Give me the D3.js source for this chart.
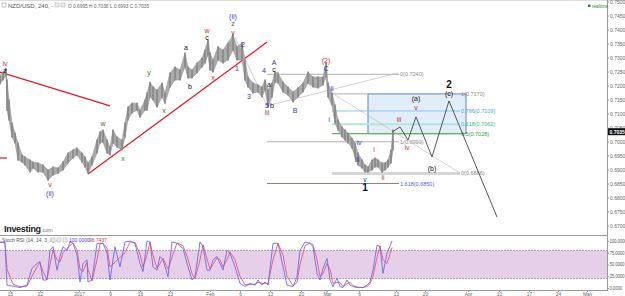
<!DOCTYPE html>
<html>
<head>
<meta charset="utf-8">
<script src="https://cdn.jsdelivr.net/npm/d3@7/dist/d3.min.js"></script>
<style>
  body { margin: 0; background: #fff; }
  svg { display: block; font-family: "Liberation Sans", Arial, sans-serif; }
</style>
</head>
<body>
<svg id="chart" width="625" height="296"></svg>
<script>
// NZD/USD 240 min, bars are counted from the left edge (one bar ~ one pixel)
var barIdx = [0,3,6,7,9,12,15,18,22,25,30,33,38,43,48,53,58,63,68,73,77,82,85,88,92,97,100,103,107,110,113,117,122,125,128,132,137,140,145,147,150,153,157,162,165,170,175,180,185,188,192,197,202,205,208,210,213,218,223,228,233,237,242,245,248,253,258,262,265,268,272,275,278,283,288,293,298,303,308,313,318,323,326,328,332,335,338,342,345,348,352,355,358,362,365,368,372,375,378,382,385,388,391,393];
var highs = [0.7234,0.7248,0.7262,0.7220,0.7148,0.7066,0.7030,0.6995,0.6952,0.6945,0.6934,0.6927,0.6923,0.6916,0.6898,0.6909,0.6905,0.6927,0.6959,0.6970,0.6977,0.6959,0.6945,0.6923,0.6945,0.7005,0.7034,0.7041,0.7005,0.6980,0.7041,0.7016,0.7005,0.7066,0.7123,0.7137,0.7137,0.7112,0.7148,0.7173,0.7212,0.7195,0.7184,0.7209,0.7173,0.7245,0.7266,0.7255,0.7316,0.7266,0.7255,0.7280,0.7298,0.7327,0.7362,0.7316,0.7291,0.7338,0.7327,0.7352,0.7380,0.7338,0.7352,0.7291,0.7230,0.7209,0.7202,0.7195,0.7220,0.7184,0.7209,0.7248,0.7245,0.7212,0.7195,0.7177,0.7191,0.7209,0.7248,0.7230,0.7230,0.7230,0.7280,0.7209,0.7173,0.7130,0.7077,0.7052,0.7041,0.7030,0.7012,0.6995,0.6959,0.6934,0.6916,0.6909,0.6934,0.6941,0.6934,0.6923,0.6923,0.6934,0.6970,0.7041];
var lows = [0.7205,0.7220,0.7234,0.7112,0.7077,0.7016,0.6995,0.6934,0.6927,0.6916,0.6891,0.6905,0.6891,0.6891,0.6862,0.6880,0.6887,0.6898,0.6923,0.6941,0.6952,0.6927,0.6909,0.6887,0.6916,0.6959,0.6995,0.6998,0.6959,0.6952,0.6995,0.6980,0.6970,0.7016,0.7077,0.7102,0.7112,0.7087,0.7112,0.7112,0.7159,0.7148,0.7123,0.7159,0.7137,0.7195,0.7220,0.7220,0.7266,0.7227,0.7227,0.7245,0.7266,0.7280,0.7309,0.7255,0.7248,0.7291,0.7280,0.7291,0.7327,0.7291,0.7291,0.7220,0.7195,0.7173,0.7177,0.7159,0.7184,0.7123,0.7159,0.7212,0.7209,0.7177,0.7166,0.7141,0.7159,0.7177,0.7209,0.7195,0.7191,0.7202,0.7230,0.7159,0.7130,0.7066,0.7041,0.7016,0.7005,0.6995,0.6977,0.6945,0.6916,0.6905,0.6891,0.6891,0.6898,0.6909,0.6909,0.6891,0.6898,0.6909,0.6923,0.6970];

// stochastic RSI (14,14,3,3)
var stochBar = [0,5,7,13,20,27,32,37,40,43,47,50,53,57,60,63,67,70,73,77,80,83,87,88,92,97,100,103,107,110,115,120,125,130,135,140,143,147,150,153,157,160,163,168,172,177,183,188,192,195,200,203,207,210,213,217,220,223,227,230,235,240,245,250,255,258,262,265,268,273,278,283,287,293,297,300,305,310,313,317,320,323,327,330,333,337,340,343,347,350,353,357,363,367,370,373,377,380,383,387,392];
var stochK = [98,96,6,4,1,6,42,52,56,17,17,80,88,38,67,88,80,98,95,70,13,52,60,13,17,95,95,95,74,17,88,45,98,100,95,52,35,100,98,45,38,67,60,24,98,95,84,45,17,24,98,88,38,38,60,67,52,38,80,74,45,10,3,10,6,17,6,13,6,95,95,45,6,3,24,80,98,95,88,31,17,42,63,17,3,21,3,1,17,6,3,1,1,6,13,38,91,88,31,74,100];
var stochD = [97,97,40,8,3,4,25,45,54,35,18,50,80,60,55,75,84,90,96,82,40,35,55,40,15,60,94,95,85,45,55,65,75,98,97,72,45,70,98,70,42,52,63,40,65,96,90,62,30,20,60,92,62,40,50,64,60,45,60,77,60,25,7,7,8,12,10,10,9,60,95,70,25,5,12,50,90,96,92,60,25,30,52,40,10,12,12,3,9,12,5,2,1,3,9,25,65,90,60,52,86];

// axes
var priceTicks = [0.75,0.745,0.74,0.735,0.73,0.725,0.72,0.715,0.71,0.705,0.70,0.695,0.69,0.685,0.68,0.675,0.67];
var stochTicks = [0,25,50,75,100];
var dateBars = [10,40,79,110,140,170,210,240,270,301,327,359,396,425,468,499,529,558,587];
var dateLabels = ["15","22","2017","9","16","23","Feb","6","13","20","Mar","6","13","20","Apr","10","17","24","May"];

// fib tools
var extNames = ["0","1","1.618"], extPrices = [0.7240,0.6999,0.6850];
var retNames = ["1","0.786","0.618","0.5","0"], retPrices = [0.7170,0.7109,0.7062,0.7028,0.6886];

// hand drawn lines [bar0, price0, bar1, price1]
var redLines = [[0,0.7248,110,0.7127],[88,0.6884,267,0.7355],[0,0.6941,7,0.6941]];
var guideLines = [[235,0.7373,267,0.7127],[267,0.7127,398,0.7245],[332,0.7173,460,0.6887]];
var pathBars = [392,400,408,416,432,449,497];
var pathPrices = [0.7034,0.7052,0.7005,0.7088,0.6945,0.7145,0.6730];

// wave labels: text, bar, price, colour
var waveLabels = [
  ["iv",5,0.7280,"r"],["z",5,0.7255,"k"],["v",50,0.6845,"r"],["(ii)",50,0.6813,"b"],
  ["w",103,0.7066,"g"],["x",123,0.6941,"g"],["y",149,0.7248,"g"],["x",164,0.7109,"g"],
  ["a",186,0.7334,"k"],["b",190,0.7198,"k"],["c",207,0.7370,"k"],["w",207,0.7395,"r"],
  ["x",213,0.7227,"r"],["y",233,0.7391,"r"],["z",233,0.7420,"g"],["(ii)",233,0.7445,"b"],
  ["1",237,0.7262,"b"],["2",243,0.7348,"b"],["3",249,0.7159,"b"],["4",264,0.7252,"b"],
  ["a",269,0.7205,"k"],["5",267,0.7127,"b"],["b",272,0.7130,"k"],["iii",267,0.7102,"r"],
  ["A",274,0.7282,"b"],["c",274,0.7257,"k"],["B",295,0.7112,"b"],["(2)",326,0.7290,"r"],
  ["C",326,0.7262,"b"],["ii",332,0.7188,"b"],["i",329,0.7080,"b"],["iv",359,0.6995,"b"],
  ["iii",357,0.6934,"b"],["v",365,0.6866,"b"],["i",374,0.6970,"r"],["ii",383,0.6870,"r"],
  ["iii",399,0.7077,"r"],["iv",407,0.6977,"r"],["v",416,0.7120,"r"],["(a)",416,0.7155,"k"],
  ["(b)",432,0.6905,"k"],["(c)",449,0.7173,"k"]
];
var bigLabels = [["1",365,0.6836],["2",449,0.7204]];

var colors = { r: "#d42a2a", k: "#111", g: "#3d7d1c", b: "#2a36c8" };

var svg = d3.select("#chart"),
    plotRight = 607;

var x = d3.scaleLinear().domain([0, plotRight]).range([0, plotRight]),
    y = d3.scaleLinear().domain([0.70, 0.75]).range([141.5, 1.5]),
    ys = d3.scaleLinear().domain([0, 100]).range([288, 241]);

// frame lines
svg.append("line").attr("x1", 0).attr("x2", 625).attr("y1", 0.5).attr("y2", 0.5).attr("stroke", "#ddd");
svg.append("line").attr("x1", 0).attr("x2", plotRight).attr("y1", 235.5).attr("y2", 235.5).attr("stroke", "#999");
svg.append("line").attr("x1", 0).attr("x2", plotRight).attr("y1", 290.5).attr("y2", 290.5).attr("stroke", "#999");
svg.append("line").attr("x1", plotRight + 0.5).attr("x2", plotRight + 0.5).attr("y1", 0).attr("y2", 291).attr("stroke", "#999");

// stoch band
svg.append("rect")
  .attr("x", 0).attr("width", plotRight)
  .attr("y", ys(80)).attr("height", ys(20) - ys(80))
  .attr("fill", "#e6cfe8");
[80, 20].forEach(function(v) {
  svg.append("line").attr("x1", 0).attr("x2", plotRight)
    .attr("y1", ys(v)).attr("y2", ys(v))
    .attr("stroke", "#8a7a8a").attr("stroke-dasharray", "2,1").attr("stroke-width", 0.7);
});

// red trend lines
svg.append("g").selectAll("line").data(redLines).enter().append("line")
  .attr("x1", function(d) { return x(d[0]); }).attr("y1", function(d) { return y(d[1]); })
  .attr("x2", function(d) { return x(d[2]); }).attr("y2", function(d) { return y(d[3]); })
  .attr("stroke", "#e8141a").attr("stroke-width", 1.2);

// fib box
svg.append("rect")
  .attr("x", x(368)).attr("y", y(0.7170))
  .attr("width", x(466) - x(368)).attr("height", y(0.7028) - y(0.7170))
  .attr("fill", "#e1eef9").attr("stroke", "#5b86bd").attr("stroke-width", 1);

// extension tool levels
var extColors = ["#b0b0b0", "#b0b0b0", "#7d7dd8"],
    extText = ["#8a8a8a", "#8a8a8a", "#5c5cd0"];
extPrices.forEach(function(p, i) {
  svg.append("line").attr("x1", x(267)).attr("x2", x(399))
    .attr("y1", y(p)).attr("y2", y(p))
    .attr("stroke", extColors[i]).attr("stroke-width", i == 2 ? 1.2 : 1);
  svg.append("text").attr("x", x(399) + 1).attr("y", y(p) + 2)
    .attr("font-size", 5.5).attr("fill", extText[i])
    .text(extNames[i] + "(" + p.toFixed(4) + ")");
});

// retracement tool levels
var retColors = ["#5b86bd", "#86c6ea", "#b3e6d4", "#5cb55a", "#d6d6d6"],
    retWidth = [1, 1, 2, 1.3, 3],
    retText = ["#8a8a8a", "#4aa6d6", "#3cb596", "#3a9a3a", "#8a8a8a"];
retPrices.forEach(function(p, i) {
  svg.append("line").attr("x1", x(332)).attr("x2", x(i == 0 ? 332 : 460))
    .attr("y1", y(p)).attr("y2", y(p))
    .attr("stroke", retColors[i]).attr("stroke-width", retWidth[i]);
  svg.append("text").attr("x", x(461)).attr("y", y(p) + 2)
    .attr("font-size", 5.5).attr("fill", retText[i])
    .text(retNames[i] + "(" + p.toFixed(4) + ")");
});
svg.append("line").attr("x1", x(332)).attr("x2", x(368))
  .attr("y1", y(0.7170)).attr("y2", y(0.7170)).attr("stroke", "#b0b0b0");

// thin connector lines of the tools
svg.append("g").selectAll("line").data(guideLines).enter().append("line")
  .attr("x1", function(d) { return x(d[0]); }).attr("y1", function(d) { return y(d[1]); })
  .attr("x2", function(d) { return x(d[2]); }).attr("y2", function(d) { return y(d[3]); })
  .attr("stroke", "#bdbdbd").attr("stroke-width", 0.7);

// price bars: light band for the range, darker ticks on top
var bars = barIdx.map(function(b, i) { return { bar: b, hi: highs[i], lo: lows[i] }; });
svg.append("path").datum(bars)
  .attr("fill", "#ababab").attr("stroke", "#999").attr("stroke-width", 0.6)
  .attr("d", d3.area()
    .x(function(d) { return x(d.bar); })
    .y0(function(d) { return y(d.lo); })
    .y1(function(d) { return y(d.hi); }));
svg.append("g").selectAll("line").data(bars).enter().append("line")
  .attr("x1", function(d) { return x(d.bar); }).attr("x2", function(d) { return x(d.bar); })
  .attr("y1", function(d) { return y(d.hi) - 0.5; }).attr("y2", function(d) { return y(d.lo) + 0.5; })
  .attr("stroke", "#808080").attr("stroke-width", 1.4);

// projected path
svg.append("path").datum(d3.zip(pathBars, pathPrices))
  .attr("fill", "none").attr("stroke", "#555").attr("stroke-width", 1)
  .attr("d", d3.line().x(function(d) { return x(d[0]); }).y(function(d) { return y(d[1]); }));

// wave labels
svg.append("g").selectAll("text").data(waveLabels).enter().append("text")
  .attr("x", function(d) { return x(d[1]); })
  .attr("y", function(d) { return y(d[2]) + 2.5; })
  .attr("text-anchor", "middle")
  .attr("font-size", 7)
  .attr("fill", function(d) { return colors[d[3]]; })
  .text(function(d) { return d[0]; });
svg.append("g").selectAll("text").data(bigLabels).enter().append("text")
  .attr("x", function(d) { return x(d[1]); })
  .attr("y", function(d) { return y(d[2]) + 3.5; })
  .attr("text-anchor", "middle")
  .attr("font-size", 10).attr("font-weight", "bold").attr("fill", "#111")
  .text(function(d) { return d[0]; });

// price axis
var yAxis = svg.append("g").attr("transform", "translate(" + plotRight + ",0)")
  .call(d3.axisRight(y).tickValues(priceTicks).tickSize(2).tickFormat(d3.format(".4f")));
yAxis.select(".domain").remove();
yAxis.selectAll("text").attr("font-size", 5).attr("fill", "#666").attr("x", 3);
yAxis.selectAll("line").attr("stroke", "#999");

// last price tag
svg.append("rect").attr("x", plotRight + 1).attr("y", y(0.7035) - 3.5)
  .attr("width", 17).attr("height", 7).attr("fill", "#111");
svg.append("text").attr("x", plotRight + 2.5).attr("y", y(0.7035) + 2)
  .attr("font-size", 5).attr("font-weight", "bold").attr("fill", "#fff").text("0.7035");

// stoch lines
var stochRows = stochBar.map(function(b, i) { return { bar: b, k: stochK[i], d: stochD[i] }; });
svg.append("path").datum(stochRows)
  .attr("fill", "none").attr("stroke", "#f0556a").attr("stroke-width", 0.9)
  .attr("d", d3.line().x(function(d) { return x(d.bar); }).y(function(d) { return ys(d.d); }));
svg.append("path").datum(stochRows)
  .attr("fill", "none").attr("stroke", "#6b6bf0").attr("stroke-width", 0.9)
  .attr("d", d3.line().x(function(d) { return x(d.bar); }).y(function(d) { return ys(d.k); }));

var sAxis = svg.append("g").attr("transform", "translate(" + plotRight + ",0)")
  .call(d3.axisRight(ys).tickValues(stochTicks).tickSize(2).tickFormat(d3.format(".4f")));
sAxis.select(".domain").remove();
sAxis.selectAll("text").attr("font-size", 4.5).attr("letter-spacing", -0.2)
  .attr("fill", "#666").attr("x", 2.5);
sAxis.selectAll("line").attr("stroke", "#999");

// date axis
var xAxis = svg.append("g").attr("transform", "translate(0,290)")
  .call(d3.axisBottom(x).tickValues(dateBars).tickSize(2)
    .tickFormat(function(d, i) { return dateLabels[i]; }));
xAxis.select(".domain").remove();
xAxis.selectAll("text").attr("font-size", 4.8).attr("fill", "#666").attr("y", 2.5).attr("dy", "0.7em");
xAxis.selectAll("line").attr("stroke", "#999");

// headers
svg.append("rect").attr("x", 2).attr("y", 3).attr("width", 4).attr("height", 4)
  .attr("fill", "none").attr("stroke", "#999").attr("stroke-width", 0.6);
svg.append("text").attr("x", 8).attr("y", 7.5).attr("font-size", 6).attr("fill", "#555")
  .text("NZD/USD, 240, -");
[55, 61].forEach(function(px) {
  svg.append("rect").attr("x", px).attr("y", 3).attr("width", 4).attr("height", 4)
    .attr("fill", "#eee").attr("stroke", "#aaa").attr("stroke-width", 0.5);
});
svg.append("text").attr("x", 68).attr("y", 7.5).attr("font-size", 4.8).attr("fill", "#666")
  .text("O 0.6995  H 0.7038  L 0.6993  C 0.7035");
svg.append("rect").attr("x", 588).attr("y", 4.5).attr("width", 2.5).attr("height", 2.5).attr("fill", "#2a8a3a");
svg.append("text").attr("x", 592).attr("y", 7.5).attr("font-size", 4.6).attr("fill", "#2a8a3a").text("realtime");

svg.append("text").attr("x", 4).attr("y", 232).attr("font-size", 9).attr("font-weight", "bold")
  .attr("fill", "#222").attr("letter-spacing", -0.3).text("Investing");
svg.append("text").attr("x", 41).attr("y", 232).attr("font-size", 5.5).attr("fill", "#777").text(".com");

svg.append("text").attr("x", 2).attr("y", 242).attr("font-size", 5).attr("fill", "#555")
  .text("Stoch RSI (14, 14, 3, 3) -");
[51, 57, 63].forEach(function(px) {
  svg.append("rect").attr("x", px).attr("y", 238).attr("width", 4).attr("height", 4)
    .attr("fill", "#eee").attr("stroke", "#aaa").attr("stroke-width", 0.5);
});
svg.append("text").attr("x", 69).attr("y", 242).attr("font-size", 5).attr("fill", "#3b3bdc").text("100.0000");
svg.append("text").attr("x", 89).attr("y", 242).attr("font-size", 5).attr("fill", "#e0303a").text("96.7437");
</script>
</body>
</html>
